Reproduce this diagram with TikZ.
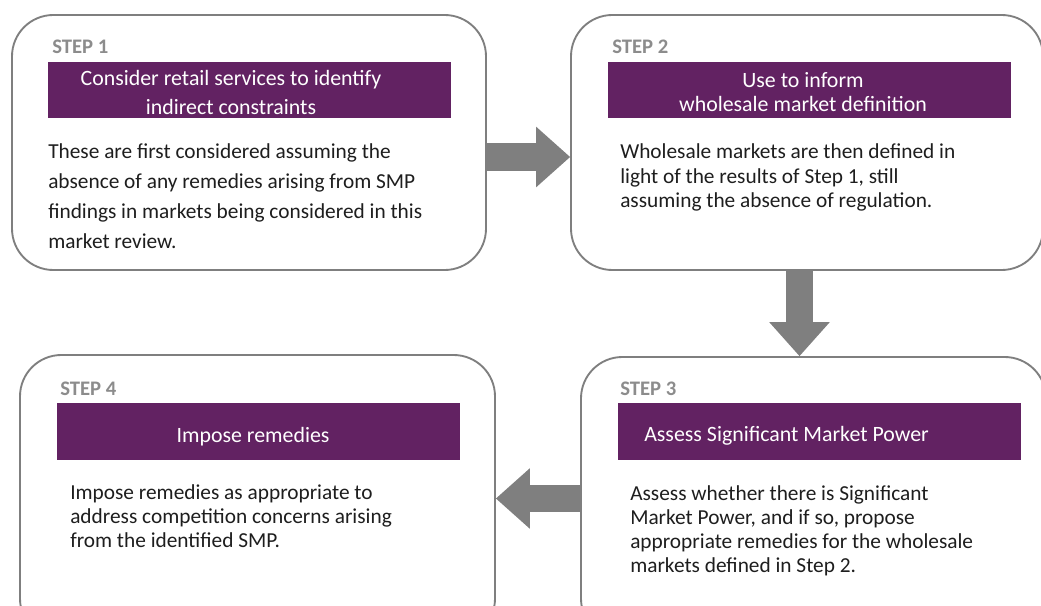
\documentclass[tikz,border=0pt]{standalone}
\usepackage{fontspec}
\setmainfont{Carlito}
\usetikzlibrary{arrows.meta,positioning,fit,calc}
\definecolor{plum}    {HTML}{622262}
\definecolor{edgegray}{HTML}{7F7F7F}
\definecolor{stepgray}{HTML}{8C8C8C}
\definecolor{ink}     {HTML}{1E1E1E}
\tikzset{
  stepbox/.style  ={draw=edgegray, line width=1.4pt, fill=white,
                    rounded corners=31pt, inner sep=0pt},
  banner/.style   ={fill=plum, inner sep=0pt},
  bantext/.style  ={text=white, align=center, inner sep=0pt, anchor=base,
                    font=\fontsize{16.4}{18}\selectfont},
  steplabel/.style={text=stepgray, inner sep=0pt, anchor=base west,
                    font=\fontsize{15.5}{17}\selectfont\bfseries},
  bodytext/.style ={text=ink, align=left, inner sep=0pt, anchor=base west,
                    font=\fontsize{16}{18}\selectfont},
  blockarr/.style ={draw=edgegray, line width=20.6pt,
                    -{Triangle[length=25.5pt,width=45.5pt,line width=0pt]}},
}

\begin{document}
\begin{tikzpicture}[x=0.75pt,y=-0.75pt]
    \useasboundingbox (0,0) rectangle (1041,606);
    \clip (0,0) rectangle (1041,606);

    % Step 1
    \node[stepbox,fit={(12,15) (486,270)}] (step1) {};
    \node[steplabel] (lab1) at (52,54) {STEP 1};
    \node[banner,fit={(48,62) (451,118)}] (ban1) {};
    \node[bantext,font=\fontsize{16.4}{21.75}\selectfont] (ban1txt) at (231,115)
      {Consider retail services to identify\\indirect constraints};
    \node[bodytext,font=\fontsize{16}{22.5}\selectfont] (txt1) at (48,248)
      {These are first considered assuming the\\
       absence of any remedies arising from SMP\\
       findings in markets being considered in this\\
       market review.};

    % Step 2
    \node[stepbox,fit={(571,15) (1043,270)}] (step2) {};
    \node[steplabel] (lab2) at (612,54) {STEP 2};
    \node[banner,fit={(608,62) (1011,118)}] (ban2) {};
    \node[bantext] (ban2txt) at (803,112)
      {Use to inform\\wholesale market definition};
    \node[bodytext] (txt2) at (620,207)
      {Wholesale markets are then defined in\\
       light of the results of Step 1, still\\
       assuming the absence of regulation.};

    % Step 3
    \node[stepbox,fit={(581,357) (1046,640)}] (step3) {};
    \node[steplabel] (lab3) at (620,395) {STEP 3};
    \node[banner,fit={(618,403) (1021,460)}] (ban3) {};
    \node[bantext,anchor=base west] (ban3txt) at (644,441)
      {Assess Significant Market Power};
    \node[bodytext] (txt3) at (630,572)
      {Assess whether there is Significant\\
       Market Power, and if so, propose\\
       appropriate remedies for the wholesale\\
       markets defined in Step 2.};

    % Step 4
    \node[stepbox,fit={(20,355) (495,640)}] (step4) {};
    \node[steplabel] (lab4) at (60,395) {STEP 4};
    \node[banner,fit={(57,403) (460,460)}] (ban4) {};
    \node[bantext] (ban4txt) at (253,442) {Impose remedies};
    \node[bodytext] (txt4) at (70,547)
      {Impose remedies as appropriate to\\
       address competition concerns arising\\
       from the identified SMP.};

    % Block arrows
    \draw[blockarr] ($(step1.east)+(0,14.5)$) coordinate (a1) -- (a1 -| step2.west);
    \draw[blockarr] ($(step2.south)+(-7.5,0)$) coordinate (a2) -- (a2 |- step3.north);
    \draw[blockarr] (step3.west) -- (step3.west -| step4.east);
\end{tikzpicture}
\end{document}
